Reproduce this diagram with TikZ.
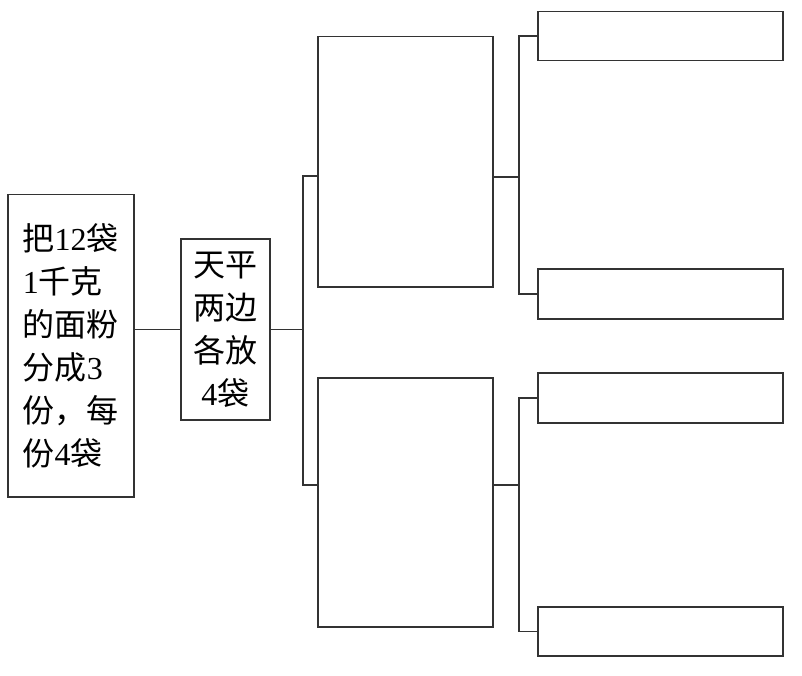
\documentclass[tikz,border=0pt]{standalone}
\usepackage{fontspec}
\setmainfont{Liberation Serif}
\newfontfamily\cjk{Noto Sans CJK SC}
\usetikzlibrary{positioning, calc}

\begin{document}
\begin{tikzpicture}[
    x=1pt, y=-1pt,
    box/.style={rectangle, draw=black!80, line width=1.5pt, inner sep=0pt,
                anchor=north west, font=\fontsize{32pt}{43pt}\selectfont},
    link/.style={draw=black!80, line width=1.5pt}
  ]
    \useasboundingbox (0,0) rectangle (802,676);

    % Text boxes
    \node[box, minimum width=126pt, minimum height=302pt, align=left] (task) at (7,194)
      {{\cjk 把}12{\cjk 袋}\\1{\cjk 千克}\\{\cjk 的面粉}\\{\cjk 分成}3\\{\cjk 份，每}\\{\cjk 份}4{\cjk 袋}};
    \node[box, minimum width=89pt, minimum height=181pt, align=center] (weigh) at (180,238)
      {{\cjk 天平}\\{\cjk 两边}\\{\cjk 各放}\\4{\cjk 袋}};

    % Empty answer boxes
    \node[box, minimum width=175pt, minimum height=250pt] (up)  at (317,36)  {};
    \node[box, minimum width=175pt, minimum height=249pt] (low) at (317,377) {};
    \node[box, minimum width=245pt, minimum height=49pt] (up1)  at (537,11)  {};
    \node[box, minimum width=245pt, minimum height=50pt] (up2)  at (537,268) {};
    \node[box, minimum width=245pt, minimum height=50pt] (low1) at (537,372) {};
    \node[box, minimum width=245pt, minimum height=49pt] (low2) at (537,606) {};

    % Bracket joints
    \coordinate (j1) at (303,176);
    \coordinate (j2) at (303,485);
    \coordinate (m1) at (519,177);
    \coordinate (m2) at (519,485);

    % Connectors
    \draw[link] (weigh.west -| task.east) -- (weigh.west);
    \draw[link] (weigh.east) -- (weigh.east -| j1);
    \draw[link] (j1 -| up.west) -- (j1) -- (j2) -- (j2 -| low.west);
    \draw[link] (m1 -| up.east) -- (m1);
    \draw[link] (up1.west) -- (up1.west -| m1) -- (up2.west -| m1) -- (up2.west);
    \draw[link] (m2 -| low.east) -- (m2);
    \draw[link] (low1.west) -- (low1.west -| m2) -- (low2.west -| m2) -- (low2.west);
  \end{tikzpicture}
\end{document}
